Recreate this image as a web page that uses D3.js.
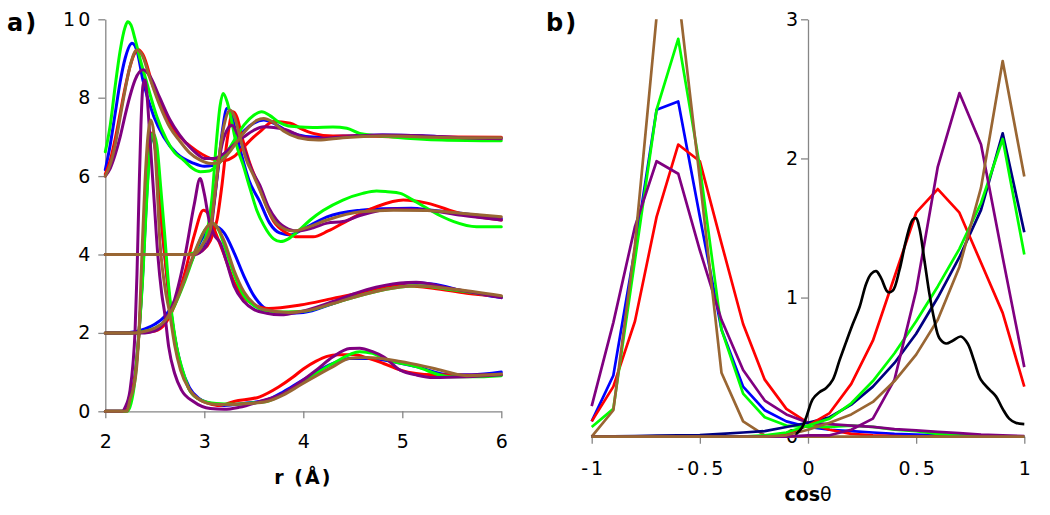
<!DOCTYPE html>
<html>
<head>
<meta charset="utf-8">
<script src="https://cdn.jsdelivr.net/npm/d3@7"></script>
<style>
  html, body { margin: 0; padding: 0; background: #fff; }
  svg { display: block; }
</style>
</head>
<body>
<svg id="chart" width="1050" height="515"></svg>
<script>
// ---------------- Panel a: g(r), five systems, four stacked groups ----------------
// points are [r (Å), plotted value]
const aBlue0 = [[2.0,0],[2.2,0],[2.25,0.25],[2.3,0.9],[2.34,2.0],[2.38,3.6],[2.42,5.6],[2.45,6.7],[2.48,7.0],[2.51,6.6],[2.55,5.3],[2.6,4.0],[2.65,2.8],[2.7,1.9],[2.76,1.2],[2.85,0.6],[2.95,0.32],[3.1,0.18],[3.2,0.15],[3.4,0.2],[3.63,0.29],[3.8,0.5],[3.97,0.76],[4.3,1.22],[4.47,1.35],[4.67,1.35],[4.81,1.31],[5.14,1.14],[5.48,0.93],[5.7,0.93],[6.0,1.0]];
const aRed0 = [[2.0,0],[2.2,0],[2.25,0.25],[2.3,0.9],[2.34,2.0],[2.38,3.7],[2.42,5.8],[2.45,6.9],[2.47,7.1],[2.5,6.8],[2.54,5.6],[2.6,4.0],[2.65,2.8],[2.7,1.9],[2.76,1.15],[2.85,0.55],[2.95,0.3],[3.05,0.2],[3.15,0.15],[3.3,0.25],[3.56,0.37],[3.75,0.62],[3.9,0.88],[4.0,1.08],[4.13,1.28],[4.24,1.4],[4.35,1.44],[4.51,1.44],[4.65,1.36],[4.81,1.22],[4.98,1.05],[5.31,0.93],[5.65,0.92],[6.0,0.93]];
const aGreen0 = [[2.0,0],[2.22,0],[2.26,0.2],[2.3,0.8],[2.34,2.0],[2.38,3.5],[2.41,5.0],[2.44,6.3],[2.48,7.1],[2.52,6.8],[2.56,5.7],[2.6,4.5],[2.64,3.2],[2.67,2.5],[2.72,1.65],[2.79,0.97],[2.85,0.54],[2.96,0.29],[3.12,0.2],[3.3,0.18],[3.5,0.22],[3.63,0.25],[3.8,0.45],[3.97,0.71],[4.3,1.22],[4.57,1.52],[4.7,1.48],[4.81,1.35],[5.14,1.14],[5.48,0.88],[5.7,0.88],[6.0,0.91]];
const aPurple0 = [[2.0,0],[2.17,0],[2.2,0.1],[2.25,0.54],[2.28,1.22],[2.3,2.0],[2.32,3.5],[2.34,5.5],[2.36,7.3],[2.38,8.3],[2.4,8.45],[2.42,8.1],[2.45,7.0],[2.49,5.5],[2.53,4.0],[2.57,3.0],[2.6,2.5],[2.64,1.65],[2.7,0.97],[2.77,0.54],[2.89,0.25],[3.06,0.07],[3.2,0.05],[3.35,0.1],[3.56,0.25],[3.8,0.46],[4.0,0.8],[4.13,1.05],[4.3,1.39],[4.47,1.6],[4.57,1.61],[4.7,1.52],[4.81,1.39],[4.98,1.05],[5.15,0.92],[5.31,0.86],[5.65,0.88],[6.0,0.93]];
const aBrown0 = [[2.0,0],[2.22,0],[2.25,0.3],[2.28,0.54],[2.32,1.22],[2.34,2.0],[2.37,4.0],[2.4,5.8],[2.43,7.0],[2.46,7.43],[2.49,7.1],[2.52,5.9],[2.55,4.4],[2.6,3.2],[2.65,2.5],[2.7,1.7],[2.76,1.05],[2.85,0.55],[2.95,0.3],[3.1,0.18],[3.25,0.17],[3.45,0.2],[3.63,0.25],[3.8,0.42],[3.97,0.67],[4.3,1.14],[4.47,1.35],[4.64,1.37],[4.98,1.27],[5.31,1.1],[5.65,0.91],[6.0,0.95]];

const aBlue2 = [[2.0,2.0],[2.2,2.0],[2.3,2.03],[2.4,2.1],[2.5,2.22],[2.6,2.42],[2.7,2.8],[2.8,3.4],[2.9,4.0],[3.0,4.5],[3.1,4.72],[3.2,4.55],[3.3,4.05],[3.4,3.45],[3.5,2.95],[3.6,2.65],[3.7,2.55],[3.85,2.5],[4.0,2.52],[4.3,2.75],[4.64,3.05],[4.98,3.25],[5.1,3.28],[5.3,3.25],[5.65,3.05],[6.0,2.9]];
const aRed2 = [[2.0,2.0],[2.3,2.0],[2.4,2.02],[2.5,2.05],[2.6,2.22],[2.7,2.7],[2.8,3.5],[2.9,4.5],[2.99,5.13],[3.05,5.0],[3.1,4.65],[3.2,4.0],[3.3,3.3],[3.4,2.9],[3.5,2.72],[3.65,2.62],[3.97,2.71],[4.3,2.88],[4.64,3.05],[4.98,3.2],[5.31,3.14],[5.65,3.01],[6.0,2.93]];
const aGreen2 = [[2.0,2.0],[2.3,2.0],[2.4,2.04],[2.5,2.12],[2.6,2.3],[2.7,2.7],[2.8,3.3],[2.9,4.0],[3.0,4.6],[3.08,4.8],[3.15,4.6],[3.2,4.25],[3.3,3.5],[3.4,2.95],[3.5,2.7],[3.6,2.58],[3.8,2.53],[4.0,2.55],[4.3,2.75],[4.64,3.0],[4.98,3.17],[5.15,3.2],[5.5,3.1],[6.0,2.92]];
const aPurple2 = [[2.0,2.0],[2.4,2.0],[2.5,2.05],[2.6,2.3],[2.7,2.85],[2.8,3.9],[2.9,5.3],[2.957,5.94],[3.0,5.55],[3.05,4.85],[3.1,4.5],[3.16,4.3],[3.22,3.85],[3.3,3.2],[3.4,2.8],[3.5,2.6],[3.63,2.5],[3.77,2.46],[3.97,2.54],[4.3,2.8],[4.64,3.1],[4.98,3.27],[5.14,3.29],[5.48,3.14],[6.0,2.9]];
const aBrown2 = [[2.0,2.0],[2.3,2.0],[2.4,2.04],[2.5,2.12],[2.6,2.3],[2.7,2.72],[2.8,3.35],[2.9,4.05],[3.0,4.6],[3.07,4.8],[3.13,4.7],[3.2,4.35],[3.3,3.6],[3.4,3.05],[3.5,2.75],[3.6,2.6],[3.85,2.52],[4.0,2.55],[4.3,2.75],[4.64,3.0],[4.98,3.17],[5.15,3.2],[5.5,3.12],[6.0,2.95]];

const aBlue4 = [[2.0,4.0],[2.85,4.0],[2.95,4.1],[3.02,4.4],[3.08,5.0],[3.13,6.0],[3.18,7.1],[3.23,7.73],[3.27,7.6],[3.32,7.1],[3.38,6.5],[3.45,5.9],[3.56,5.35],[3.66,4.8],[3.76,4.55],[3.87,4.5],[4.0,4.65],[4.24,4.96],[4.58,5.13],[4.8,5.17],[5.09,5.18],[5.3,5.13],[5.59,5.05],[6.0,4.92]];
const aRed4 = [[2.0,4.0],[2.88,4.0],[2.98,4.1],[3.06,4.35],[3.13,4.9],[3.18,5.8],[3.23,6.9],[3.29,7.64],[3.33,7.5],[3.38,7.0],[3.45,6.4],[3.55,5.75],[3.7,4.85],[3.83,4.55],[3.95,4.45],[4.1,4.45],[4.25,4.6],[4.4,4.8],[4.6,5.07],[4.74,5.22],[5.01,5.39],[5.25,5.31],[5.58,5.05],[6.0,4.88]];
const aGreen4 = [[2.0,4.0],[2.8,4.0],[2.9,4.05],[2.97,4.2],[3.03,4.6],[3.08,5.5],[3.12,6.8],[3.16,7.8],[3.19,8.11],[3.23,7.9],[3.26,7.6],[3.33,6.75],[3.39,6.3],[3.46,5.7],[3.53,5.13],[3.6,4.75],[3.7,4.4],[3.77,4.33],[3.85,4.4],[3.95,4.6],[4.07,4.88],[4.2,5.12],[4.4,5.39],[4.6,5.56],[4.74,5.62],[4.85,5.6],[4.98,5.56],[5.1,5.4],[5.25,5.18],[5.4,4.97],[5.52,4.84],[5.75,4.71],[6.0,4.71]];
const aPurple4 = [[2.0,4.0],[2.9,4.0],[3.0,4.15],[3.06,4.5],[3.1,5.3],[3.15,6.4],[3.2,7.0],[3.28,7.3],[3.33,7.1],[3.4,6.7],[3.48,6.15],[3.56,5.77],[3.65,5.2],[3.73,4.88],[3.85,4.65],[3.95,4.6],[4.1,4.68],[4.24,4.8],[4.4,4.84],[4.58,5.0],[4.91,5.16],[5.2,5.14],[5.6,5.0],[6.0,4.88]];
const aBrown4 = [[2.0,4.0],[2.89,4.0],[2.99,4.28],[3.06,4.63],[3.1,5.4],[3.15,6.5],[3.2,7.3],[3.26,7.68],[3.3,7.55],[3.35,7.1],[3.42,6.45],[3.5,6.0],[3.56,5.65],[3.65,5.1],[3.73,4.79],[3.9,4.6],[4.05,4.7],[4.24,4.88],[4.58,5.09],[4.91,5.13],[5.25,5.12],[5.59,5.05],[6.0,4.96]];

const aBlue6 = [[2.0,6.16],[2.05,6.8],[2.1,7.6],[2.15,8.4],[2.2,9.0],[2.27,9.39],[2.32,9.2],[2.38,8.45],[2.49,7.52],[2.59,7.0],[2.72,6.58],[2.89,6.33],[3.0,6.25],[3.08,6.27],[3.18,6.45],[3.3,6.85],[3.4,7.15],[3.5,7.35],[3.6,7.43],[3.7,7.35],[3.8,7.2],[3.95,7.05],[4.1,7.0],[4.4,7.02],[4.8,7.05],[5.2,7.03],[5.6,6.98],[6.0,6.97]];
const aRed6 = [[2.0,6.05],[2.05,6.4],[2.1,6.95],[2.15,7.6],[2.2,8.25],[2.25,8.8],[2.3,9.15],[2.33,9.23],[2.38,9.1],[2.485,8.28],[2.62,7.52],[2.72,7.1],[2.82,6.84],[2.92,6.65],[3.02,6.5],[3.1,6.42],[3.2,6.4],[3.3,6.5],[3.4,6.75],[3.5,7.0],[3.56,7.13],[3.7,7.39],[3.87,7.35],[3.97,7.22],[4.1,7.09],[4.3,7.02],[4.6,7.02],[5.0,7.0],[5.5,7.0],[6.0,6.99]];
const aGreen6 = [[2.0,6.62],[2.05,7.3],[2.1,8.3],[2.15,9.2],[2.2,9.8],[2.226,9.94],[2.26,9.85],[2.3,9.5],[2.35,9.0],[2.42,8.37],[2.52,7.52],[2.62,6.92],[2.7,6.6],[2.79,6.41],[2.88,6.2],[2.96,6.11],[3.05,6.13],[3.12,6.25],[3.2,6.5],[3.3,6.9],[3.4,7.3],[3.5,7.55],[3.58,7.64],[3.66,7.55],[3.75,7.38],[3.85,7.28],[3.93,7.26],[4.1,7.24],[4.3,7.25],[4.44,7.22],[4.57,7.09],[4.9,7.0],[5.4,6.92],[6.0,6.9]];
const aPurple6 = [[2.0,6.0],[2.05,6.2],[2.1,6.55],[2.15,7.0],[2.2,7.55],[2.25,8.05],[2.3,8.45],[2.384,8.71],[2.45,8.55],[2.55,8.0],[2.65,7.45],[2.75,7.05],[2.85,6.75],[2.95,6.52],[3.0,6.45],[3.1,6.45],[3.2,6.58],[3.3,6.8],[3.4,7.0],[3.5,7.17],[3.6,7.26],[3.7,7.24],[3.83,7.18],[4.0,7.0],[4.15,6.96],[4.4,7.0],[4.8,7.05],[5.2,7.03],[5.6,6.98],[6.0,6.95]];
const aBrown6 = [[2.0,6.0],[2.05,6.3],[2.1,6.8],[2.15,7.5],[2.2,8.2],[2.25,8.8],[2.317,9.22],[2.37,9.1],[2.45,8.5],[2.55,7.8],[2.65,7.25],[2.75,6.9],[2.85,6.6],[2.95,6.42],[3.07,6.32],[3.15,6.35],[3.25,6.6],[3.35,6.95],[3.45,7.25],[3.53,7.42],[3.6,7.47],[3.68,7.4],[3.8,7.15],[3.95,6.98],[4.15,6.92],[4.4,6.98],[4.8,7.02],[5.2,7.0],[5.6,6.98],[6.0,6.98]];

const aTicksX = [2, 3, 4, 5, 6];
const aTicksY = [0, 2, 4, 6, 8, 10];

// ---------------- Panel b: angular distributions ----------------
const cosX = [-1,-0.9,-0.8,-0.7,-0.6,-0.5,-0.4,-0.3,-0.2,-0.1,0,0.1,0.2,0.3,0.4,0.5,0.6,0.7,0.8,0.9,1];
const bBlueL   = [0.11,0.44,1.35,2.35,2.41,1.58,0.77,0.36,0.19,0.11,0.07,0.05,0.04,0.03,0.02,0.015,0.01,0.01,0.005,0,0];
const bRedL    = [0.11,0.36,0.83,1.58,2.10,1.98,1.39,0.81,0.41,0.20,0.10,0.05,0.02,0.01,0.005,0,0,0,0,0,0];
const bGreenL  = [0.07,0.20,1.27,2.35,2.86,1.94,0.77,0.31,0.14,0.08,0.07,0.07,0.08,0.07,0.05,0.04,0.02,0.01,0.005,0,0];
const bPurpleL = [0.22,0.82,1.51,1.98,1.89,1.34,0.84,0.48,0.26,0.16,0.10,0.09,0.08,0.07,0.055,0.045,0.035,0.025,0.015,0.01,0.005];
const bBrownL  = [0.0,0.19,1.38,3.02,3.19,1.85,0.46,0.11,0.01,0,0,0,0,0,0,0,0,0,0,0,0];
const bNavyR   = [0,0.003,0.005,0.008,0.01,0.012,0.02,0.03,0.04,0.07,0.10,0.14,0.23,0.36,0.53,0.74,1.0,1.29,1.63,2.18,1.47];
const bRedR    = [0,0,0,0,0,0,0,0,0,0.02,0.08,0.17,0.38,0.69,1.15,1.61,1.78,1.61,1.25,0.89,0.36];
const bGreenR  = [0,0,0,0,0,0,0,0,0.01,0.03,0.08,0.13,0.24,0.40,0.60,0.83,1.08,1.35,1.68,2.14,1.31];
const bPurpleR = [0,0,0,0,0,0,0,0,0,0,0.01,0.01,0.05,0.13,0.41,1.05,1.94,2.47,2.10,1.29,0.50];
const bBrownR  = [0,0,0,0,0,0,0,0,0,0.01,0.05,0.10,0.16,0.25,0.40,0.59,0.84,1.22,1.79,2.70,1.87];
const bBlack = [[-0.055,0.02],[-0.03,0.06],[-0.008,0.14],[0.022,0.27],[0.053,0.32],[0.084,0.35],[0.115,0.41],[0.146,0.55],[0.176,0.68],[0.207,0.81],[0.238,0.93],[0.269,1.10],[0.292,1.17],[0.315,1.19],[0.338,1.14],[0.369,1.04],[0.392,1.05],[0.423,1.20],[0.453,1.41],[0.484,1.56],[0.5,1.57],[0.515,1.50],[0.538,1.27],[0.561,1.03],[0.584,0.84],[0.607,0.71],[0.638,0.67],[0.669,0.69],[0.707,0.72],[0.738,0.67],[0.769,0.54],[0.799,0.41],[0.838,0.34],[0.869,0.29],[0.9,0.20],[0.93,0.13],[0.96,0.10],[1.0,0.09]];

const bTicksX = [-1, -0.5, 0, 0.5, 1];
const bTickLabelsX = ["-1", "-0.5", "0", "0.5", "1"];
const bTicksY = [0, 1, 2, 3];

const colors = { blue:"#0000ff", red:"#ff0000", green:"#00ff00", purple:"#800080", brown:"#996633", navy:"#000080", black:"#000000" };

// ---------------- drawing ----------------
const svg = d3.select("#chart");
const FONT = "'DejaVu Sans', Verdana, sans-serif";
const AXIS = "#868686";

function styleAxis(g) {
  g.selectAll("path.domain").attr("stroke", AXIS).attr("stroke-width", 1.3);
  g.selectAll(".tick line").attr("stroke", AXIS).attr("stroke-width", 1.3);
  g.selectAll(".tick text").attr("font-family", FONT).attr("font-size", 19)
    .attr("fill", "#000").style("letter-spacing", "3px");
}

// Panel a scales
const xa = d3.scaleLinear().domain([2, 6]).range([105.3, 501.3]);
const ya = d3.scaleLinear().domain([0, 10]).range([411.3, 19.3]);

const gaY = svg.append("g").attr("transform", `translate(${xa(2)},0)`)
  .call(d3.axisLeft(ya).tickValues(aTicksY).tickFormat(d3.format("d")).tickSize(7).tickSizeOuter(0));
styleAxis(gaY);
gaY.selectAll(".tick text").attr("x", -12);

const gaX = svg.append("g").attr("transform", `translate(0,${ya(0)})`)
  .call(d3.axisBottom(xa).tickValues(aTicksX).tickFormat(d3.format("d")).tickSize(7).tickSizeOuter(0));
styleAxis(gaX);
gaX.selectAll(".tick text").attr("y", 37).attr("dy", 0).attr("dx", 1.5);

const lineA = d3.line().x(d => xa(d[0])).y(d => ya(d[1])).curve(d3.curveMonotoneX);
const aSeries = [
  [aBlue0, colors.blue], [aBlue2, colors.blue], [aBlue4, colors.blue], [aBlue6, colors.blue],
  [aRed0, colors.red], [aRed2, colors.red], [aRed4, colors.red], [aRed6, colors.red],
  [aGreen0, colors.green], [aGreen2, colors.green], [aGreen4, colors.green], [aGreen6, colors.green],
  [aPurple0, colors.purple], [aPurple2, colors.purple], [aPurple4, colors.purple], [aPurple6, colors.purple],
  [aBrown0, colors.brown], [aBrown2, colors.brown], [aBrown4, colors.brown], [aBrown6, colors.brown]
];
svg.append("g").selectAll("path").data(aSeries).join("path")
  .attr("d", d => lineA(d[0]))
  .attr("fill", "none").attr("stroke", d => d[1])
  .attr("stroke-width", 3).attr("stroke-linejoin", "round").attr("stroke-linecap", "round");

svg.append("text").attr("x", xa(4)).attr("y", 484).attr("text-anchor", "middle")
  .attr("font-family", FONT).attr("font-size", 19).attr("font-weight", "bold")
  .style("letter-spacing", "2px").text("r (Å)");
svg.append("text").attr("x", 7).attr("y", 31)
  .attr("font-family", FONT).attr("font-size", 24).attr("font-weight", "bold")
  .style("letter-spacing", "2px").text("a)");

// Panel b scales
const xb = d3.scaleLinear().domain([-1, 1]).range([591.7, 1024.3]);
const yb = d3.scaleLinear().domain([0, 3]).range([436.7, 19.3]);

const gbY = svg.append("g").attr("transform", `translate(${xb(0)},0)`)
  .call(d3.axisLeft(yb).tickValues(bTicksY).tickFormat(d3.format("d")).tickSize(7).tickSizeOuter(0));
styleAxis(gbY);
gbY.selectAll(".tick text").attr("x", -7);

const gbX = svg.append("g").attr("transform", `translate(0,${yb(0)})`)
  .call(d3.axisBottom(xb).tickValues(bTicksX).tickFormat((d, i) => bTickLabelsX[i]).tickSize(7).tickSizeOuter(0));
styleAxis(gbX);
gbX.selectAll(".tick text").attr("y", 38).attr("dy", 0).attr("dx", 1.5);

svg.append("clipPath").attr("id", "clipB").append("rect")
  .attr("x", xb(-1) - 3).attr("y", yb(3)).attr("width", xb(1) - xb(-1) + 6).attr("height", yb(0) - yb(3) + 4);

const lineB = d3.line().x(d => xb(d[0])).y(d => yb(d[1]));
const zipX = vals => vals.map((v, i) => [cosX[i], v]);
const bSeries = [
  [zipX(bBlueL), colors.blue], [zipX(bRedL), colors.red], [zipX(bGreenL), colors.green],
  [zipX(bPurpleL), colors.purple], [zipX(bBrownL), colors.brown],
  [zipX(bNavyR), colors.navy], [zipX(bRedR), colors.red], [zipX(bGreenR), colors.green],
  [zipX(bPurpleR), colors.purple], [zipX(bBrownR), colors.brown]
];
const gb = svg.append("g").attr("clip-path", "url(#clipB)");
gb.selectAll("path.s").data(bSeries).join("path").attr("class", "s")
  .attr("d", d => lineB(d[0]))
  .attr("fill", "none").attr("stroke", d => d[1])
  .attr("stroke-width", 2.7).attr("stroke-linejoin", "round");
gb.append("path").attr("d", lineB.curve(d3.curveCatmullRom)(bBlack))
  .attr("fill", "none").attr("stroke", colors.black).attr("stroke-width", 2.7);

const tb = svg.append("text").attr("x", xb(0)).attr("y", 501).attr("text-anchor", "middle")
  .attr("font-family", FONT).attr("font-size", 19).attr("font-weight", "bold");
tb.append("tspan").text("cos");
tb.append("tspan").attr("font-weight", "normal").text("θ");
svg.append("text").attr("x", 546).attr("y", 31)
  .attr("font-family", FONT).attr("font-size", 24).attr("font-weight", "bold")
  .style("letter-spacing", "2px").text("b)");
</script>
</body>
</html>
